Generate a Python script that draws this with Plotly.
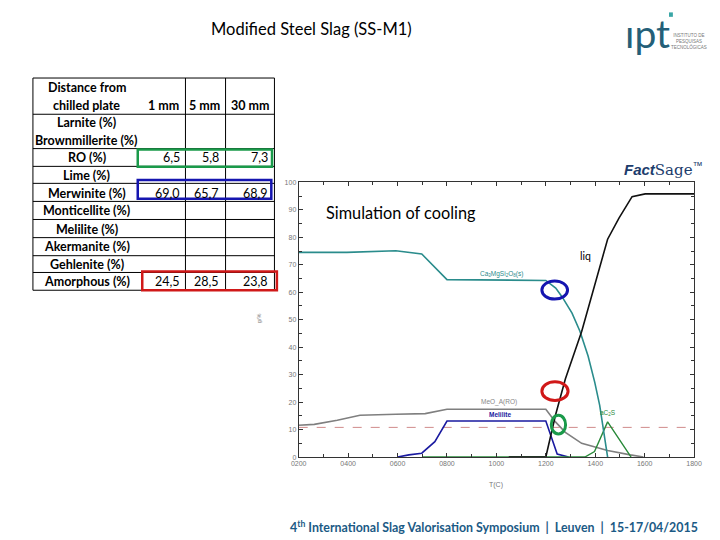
import plotly.graph_objects as go

W, H = 720, 540


def px(x):
    return x / W


def py(y):
    return 1 - y / H


# ---------------- data: cooling simulation (FactSage) ----------------
t_merw = [200, 395, 593, 698, 800, 1200, 1240, 1266, 1306, 1338, 1371, 1398, 1418, 1431, 1450]
v_merw = [74.5, 74.5, 75.1, 73.9, 64.6, 64.3, 61.5, 58.3, 52.4, 45.8, 36.8, 27.2, 18.8, 11.6, 0]

t_liq = [1050, 1200, 1239, 1279, 1345, 1424, 1450, 1496, 1549, 1602, 1800]
v_liq = [0, 0, 15.2, 28.4, 45.7, 71.5, 79.3, 87.0, 94.8, 95.8, 95.8]

t_meo = [200, 263, 356, 448, 593, 712, 800, 1200, 1239, 1279, 1345, 1450, 1542, 1595]
v_meo = [11.6, 11.9, 13.4, 15.2, 15.6, 15.8, 17.4, 17.4, 12.8, 9.0, 5.0, 2.4, 0.8, 0]

t_mel = [600, 646, 698, 751, 800, 1200, 1246, 1292]
v_mel = [0, 0.8, 1.4, 5.6, 13.1, 13.1, 1.1, 0]

t_c2s = [700, 1200, 1358, 1397, 1450, 1545]
v_c2s = [0, 0, 0, 2.0, 12.8, 0]

dashed_level = 10.8

x_tickvals = [200, 400, 600, 800, 1000, 1200, 1400, 1600, 1800]
x_ticktext = ["0200", "0400", "0600", "0800", "1000", "1200", "1400", "1600", "1800"]

# highlight ellipses (T range, % range)
ellipses = [
    ("#1515b0", 1184, 1288, 57.5, 64.1),
    ("#d01818", 1184, 1290, 20.6, 27.4),
    ("#1a9a4a", 1222, 1280, 8.4, 15.2),
]

# ---------------- data: table ----------------
minerals = ["Larnite (%)", "Brownmillerite (%)", "RO (%)", "Lime (%)", "Merwinite (%)",
            "Monticellite (%)", "Melilite (%)", "Akermanite (%)", "Gehlenite (%)", "Amorphous (%)"]
distances = ["1 mm", "5 mm", "30 mm"]
ro_values = ["6,5", "5,8", "7,3"]
merwinite_values = ["69,0", "65,7", "68,9"]
amorphous_values = ["24,5", "28,5", "23,8"]

fig = go.Figure()

series = [
    (t_meo, v_meo, "#7f7f7f", 1.6),
    (t_mel, v_mel, "#1a1aa0", 1.6),
    (t_c2s, v_c2s, "#2a8a3a", 1.4),
    (t_merw, v_merw, "#2a8c8c", 1.6),
    (t_liq, v_liq, "#111111", 1.6),
]
for t, v, c, w in series:
    fig.add_trace(go.Scatter(x=t, y=v, mode="lines", line=dict(color=c, width=w),
                             showlegend=False, hoverinfo="skip"))

shapes = []
# dashed reference level across the whole temperature axis
shapes.append(dict(type="line", xref="x", yref="y", x0=x_tickvals[0], x1=x_tickvals[-1],
                   y0=dashed_level, y1=dashed_level, layer="below",
                   line=dict(color="#d08a8a", width=1, dash="dash")))
for c, x0, x1, y0, y1 in ellipses:
    shapes.append(dict(type="circle", xref="x", yref="y", x0=x0, x1=x1, y0=y0, y1=y1,
                       line=dict(color=c, width=3)))

# ---- table geometry (pixels) ----
tl, tr = 25.5, 272.5
col_lines = [181.5, 222.5]
row_lines = [75, 111.7, 146.5, 164.5, 181.7, 200, 218.3, 236.7, 255, 272, 290]
for y in row_lines:
    shapes.append(dict(type="line", xref="paper", yref="paper", x0=px(tl), x1=px(tr),
                       y0=py(y), y1=py(y), line=dict(color="black", width=1)))
for x in [tl, tr] + col_lines:
    shapes.append(dict(type="line", xref="paper", yref="paper", x0=px(x), x1=px(x),
                       y0=py(75), y1=py(290), line=dict(color="black", width=1)))

# highlight boxes on table
boxes = [
    ("#1a9a4a", 132.7, 270, 147.3, 165),
    ("#1515b0", 132.7, 269.3, 178.3, 197.3),
    ("#d01818", 137.3, 275, 271, 290),
]
for c, x0, x1, y0, y1 in boxes:
    shapes.append(dict(type="rect", xref="paper", yref="paper", x0=px(x0), x1=px(x1),
                       y0=py(y0), y1=py(y1), line=dict(color=c, width=2.5)))

# ipt logo dot
shapes.append(dict(type="rect", xref="paper", yref="paper", x0=px(676), x1=px(680),
                   y0=py(13), y1=py(8.5), fillcolor="#3aa6a6", line=dict(width=0)))

ann = []
FONT = "Lato"


def txt(x, y, s, size, color="black", xanchor="center", family=FONT, **kw):
    ann.append(dict(x=px(x), y=py(y), xref="paper", yref="paper", text=s, showarrow=False,
                    xanchor=xanchor, yanchor="middle", font=dict(size=size, color=color, family=family),
                    **kw))


txt(310.5, 25, "Modified Steel Slag (SS-M1)", 16.5)

# table text
TS = 12.5
c0 = 80.5
txt(c0, 85, "<b>Distance from</b>", TS)
txt(c0, 103, "<b>chilled plate</b>", TS)
for xc, d in zip([159.5, 201, 247], distances):
    txt(xc, 103, "<b>" + d + "</b>", TS)
row_y = [120, 138, 156, 173.5, 191.5, 209.5, 228, 246, 264, 281.5]
for y, m in zip(row_y, minerals):
    txt(c0, y, "<b>" + m + "</b>", TS)
right_edges = [178, 218, 267.5]
for vals, y in [(ro_values, row_y[2]), (merwinite_values, row_y[4]), (amorphous_values, row_y[9])]:
    for xr, v in zip(right_edges, vals):
        txt(xr, y, v, 12.5, xanchor="right")

# chart labels
ann.append(dict(x=303, y=88.9, xref="x", yref="y", text="Simulation of cooling", showarrow=False,
                xanchor="left", yanchor="middle", font=dict(size=16.3, color="black", family=FONT)))
ann.append(dict(x=1362, y=73.3, xref="x", yref="y", text="liq", showarrow=False,
                font=dict(size=10.5, color="black", family=FONT)))
ann.append(dict(x=1022, y=66.8, xref="x", yref="y", text="Ca<sub>3</sub>MgSi<sub>2</sub>O<sub>8</sub>(s)",
                showarrow=False, font=dict(size=6.5, color="#2a8c8c", family="Liberation Sans")))
ann.append(dict(x=1012, y=20.1, xref="x", yref="y", text="MeO_A(RO)", showarrow=False,
                font=dict(size=6.5, color="#888888", family="Liberation Sans")))
ann.append(dict(x=1015, y=15.4, xref="x", yref="y", text="<b>Melilite</b>", showarrow=False,
                font=dict(size=6.5, color="#1a1aa0", family="Liberation Sans")))
ann.append(dict(x=1452, y=16.0, xref="x", yref="y", text="aC<sub>2</sub>S", showarrow=False,
                font=dict(size=6.5, color="#2a8a3a", family="Liberation Sans")))
txt(499.5, 487, "T(C)", 7, color="#777777", family="Liberation Sans")
txt(257, 318, "g/%", 5.5, color="#888888", family="Liberation Sans", textangle=-90)

# FactSage logo
txt(670, 167, "<b><i>Fact</i></b><span style='font-family:DejaVu Serif'>Sage</span><sup>™</sup>",
    15, color="#1c3c6c", family="Liberation Sans")

# ipt logo
txt(654, 29, "ıpt", 39, color="#245f78")
txt(696, 38, "INSTITUTO DE<br>PESQUISAS<br>TECNOLÓGICAS", 4.5, color="#777777",
    family="Liberation Sans")

# footer
txt(497.5, 529,
    "<b>4<sup>th</sup> International Slag Valorisation Symposium \u00a0|\u00a0 Leuven \u00a0|\u00a0 15-17/04/2015</b>",
    12.4, color="#1b5a85")

axis_common = dict(showgrid=False, zeroline=False, showline=True, linecolor="#333333", linewidth=1,
                   ticks="inside", ticklen=4, tickcolor="#333333", mirror="allticks",
                   tickfont=dict(size=7, color="#777777", family="Liberation Sans"))

fig.update_layout(
    width=W, height=H,
    margin=dict(l=0, r=0, t=0, b=0),
    paper_bgcolor="white", plot_bgcolor="white",
    xaxis=dict(domain=[px(297.3), px(701.7)], range=[200, 1800], tickmode="array",
               tickvals=x_tickvals, ticktext=x_ticktext,
               minor=dict(ticks="inside", ticklen=3, dtick=100, tick0=200, tickcolor="#333333"),
               **axis_common),
    yaxis=dict(domain=[py(459), py(180.7)], range=[0, 100], dtick=10, tick0=0,
               minor=dict(ticks="inside", ticklen=3, dtick=5, tickcolor="#333333"),
               **axis_common),
    shapes=shapes,
    annotations=ann,
    showlegend=False,
)

fig.write_html("out.html", config={"responsive": False, "displayModeBar": False},
               post_script="document.body.style.margin='0';document.body.style.overflow='hidden';")
